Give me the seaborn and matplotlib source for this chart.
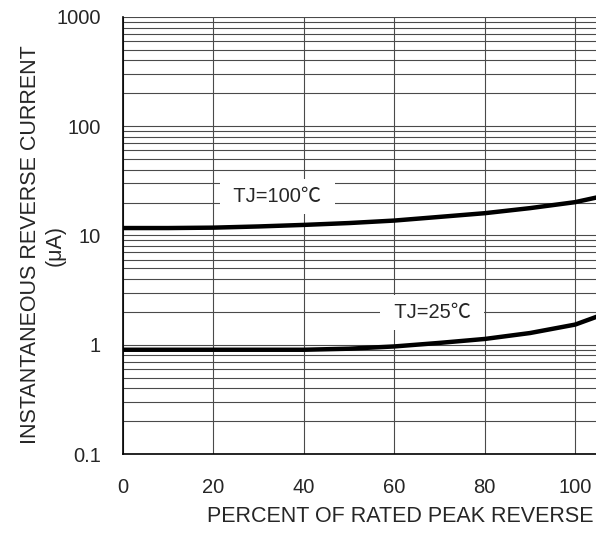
import seaborn as sns
import matplotlib.pyplot as plt
import matplotlib.ticker as mticker
import numpy as np
import pandas as pd

# percent of rated peak reverse voltage
percent = [0, 10, 20, 30, 40, 50, 60, 70, 80, 90, 100, 105]
# instantaneous reverse current (uA)
current_100c = [11.7, 11.7, 11.8, 12.1, 12.5, 13.0, 13.7, 14.8, 16.0, 17.8, 20.2, 22.4]
current_25c = [0.90, 0.90, 0.90, 0.90, 0.90, 0.92, 0.965, 1.04, 1.13, 1.28, 1.53, 1.82]

y_ticks = [0.1, 1, 10, 100, 1000]
y_tick_labels = ['0.1', '1', '10', '100', '1000']
x_ticks = [0, 20, 40, 60, 80, 100]

sns.set_style('white')
plt.rcParams['font.family'] = ['Liberation Sans', 'Noto Sans CJK SC', 'DejaVu Sans']

df = pd.DataFrame({
    'percent': percent * 2,
    'current': current_100c + current_25c,
    'tj': ['100'] * len(percent) + ['25'] * len(percent),
})

fig = plt.figure(figsize=(5.96, 5.34), dpi=100)
ax = fig.add_axes([0.2064, 0.1498, 0.7936, 0.8184])

ax.set_yscale('log')
ax.set_ylim(0.1, 1000)
ax.set_xlim(0, 104.6)

# grid: every decade subdivision horizontally, every 20% vertically
ax.yaxis.set_major_locator(mticker.FixedLocator(y_ticks))
ax.yaxis.set_minor_locator(mticker.LogLocator(base=10, subs=np.arange(2, 10)))
ax.yaxis.set_minor_formatter(mticker.NullFormatter())
ax.set_yticks(y_ticks)
ax.set_yticklabels(y_tick_labels)
ax.set_xticks(x_ticks)
ax.grid(which='major', axis='both', color='#4a4a4a', linewidth=0.8)
ax.grid(which='minor', axis='y', color='#4a4a4a', linewidth=0.8)
ax.set_axisbelow(True)

sns.lineplot(data=df, x='percent', y='current', units='tj', estimator=None,
             color='black', linewidth=3.2, ax=ax, legend=False)

ax.tick_params(axis='both', which='both', length=0, labelsize=14.5)
ax.tick_params(axis='x', pad=17)
ax.tick_params(axis='y', pad=16)

for side in ['top', 'right']:
    ax.spines[side].set_visible(False)
for side in ['left', 'bottom']:
    ax.spines[side].set_color('black')
    ax.spines[side].set_linewidth(1.2)

ax.text(34.1, 22.8, ' TJ=100℃ ', fontsize=14.5, ha='center', va='center',
        bbox=dict(facecolor='white', edgecolor='none', pad=6))
ax.text(68.4, 1.97, ' TJ=25℃ ', fontsize=14.5, ha='center', va='center',
        bbox=dict(facecolor='white', edgecolor='none', pad=6))

ax.set_xlabel('PERCENT OF RATED PEAK REVERSE', fontsize=15.5)
ax.xaxis.set_label_coords(0.586, -0.12)
ax.set_ylabel('INSTANTANEOUS REVERSE CURRENT\n(μA)', fontsize=15.5, linespacing=1.2)
ax.yaxis.set_label_coords(-0.122, 0.478)

fig.savefig('out.png', dpi=100)
